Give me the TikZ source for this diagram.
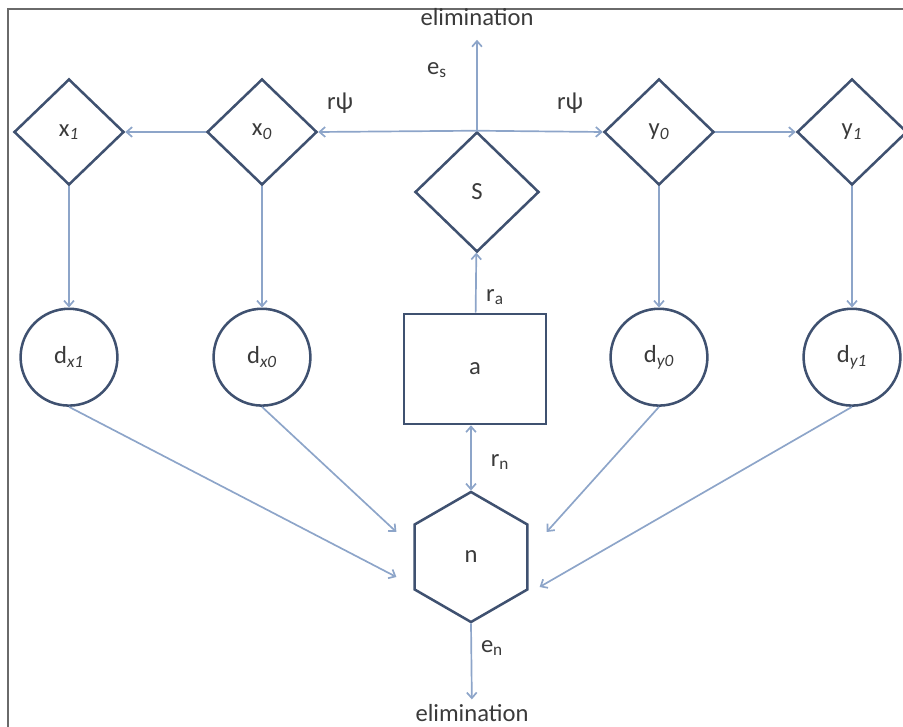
\documentclass[tikz,border=0pt]{standalone}
\usepackage{fontspec}
\setmainfont{Carlito}
\usetikzlibrary{arrows.meta,positioning,shapes.geometric}
\definecolor{edgeblue}{HTML}{3F5170}
\definecolor{linkblue}{HTML}{8DA5C9}
\definecolor{inkgray}{HTML}{3A3A3A}
\definecolor{framegray}{HTML}{6A6A6A}
\newcommand{\isub}[1]{\textsubscript{\itshape #1}}

\begin{document}
\begin{tikzpicture}[
    x=0.025cm, y=-0.025cm,
    every node/.style={font=\fontsize{17.5}{20}\selectfont, text=inkgray},
    barb/.tip={Straight Barb[length=4pt,width=7pt]},
    gate/.style={draw=edgeblue, line width=1.8pt, diamond, inner sep=0pt, minimum width=2.75cm, minimum height=2.65cm},
    pool/.style={draw=edgeblue, line width=1.8pt, circle, inner sep=0pt, minimum size=2.42cm},
    store/.style={draw=edgeblue, line width=1.8pt, minimum width=3.55cm, minimum height=2.75cm},
    hub/.style={draw=edgeblue, line width=1.8pt, regular polygon, regular polygon sides=6, shape border rotate=30, inner sep=0pt, minimum size=3.25cm},
    link/.style={draw=linkblue, line width=1.2pt, -barb},
    lbl/.style={inner sep=1pt}
]
\useasboundingbox (0,0) rectangle (903,727);
\draw[framegray, line width=1.4pt] (8,727) -- (8,9) -- (903,9);

% top row
\node[gate] (x1) at (69,132) {x\isub{1}};
\node[gate] (x0) at (262,132) {x\isub{0}};
\node[gate] (y0) at (659,132) {y\isub{0}};
\node[gate] (y1) at (852,132) {y\isub{1}};
\node[gate, minimum width=3.1cm, minimum height=3.0cm] (S) at (477,192) {S};

% pools
\node[pool, below=3.03cm of x1] (dx1) {d\isub{x1}};
\node[pool, below=3.03cm of x0] (dx0) {d\isub{x0}};
\node[pool, below=3.03cm of y0] (dy0) {d\isub{y0}};
\node[pool, below=3.03cm of y1] (dy1) {d\isub{y1}};

\node[store] (a) at (475,369) {a};
\node[hub] (n) at (471,557) {n};

\node (elimS) at (477,17) {elimination};
\node (elimN) at (472,713) {elimination};

% labels
\node[lbl] (es) at (437,70) {e\textsubscript{s}};
\node[lbl] (psiL) at (340,103) {rψ};
\node[lbl] (psiR) at (570,103) {rψ};
\node[lbl] (ra) at (495,297) {r\textsubscript{a}};
\node[lbl] (rn) at (500,462) {r\textsubscript{n}};
\node[lbl] (en) at (492,648) {e\textsubscript{n}};

\coordinate (inx1) at ([shift={(-17,20)}]n.180);
\coordinate (inx0) at ([shift={(-17,-25)}]n.180);
\coordinate (iny0) at ([shift={(18,-25)}]n.0);
\coordinate (iny1) at ([shift={(11,30)}]n.0);

\draw[link] (x0) -- (x1);
\draw[link] (y0) -- (y1);
\draw[link] (S.north) -- (x0.east);
\draw[link] (S.north) -- (y0.west);
\draw[link, shorten >=0.23cm] (S.north) -- (elimS);
\draw[link] (x1) -- (dx1);
\draw[link] (x0) -- (dx0);
\draw[link] (y0) -- (dy0);
\draw[link] (y1) -- (dy1);
\draw[link] (a) -- (S);
\draw[link, barb-barb] (n.90) -- (n.90 |- a.south);
\draw[link] (dx1.south) -- (inx1);
\draw[link] (dx0.south) -- (inx0);
\draw[link] (dy0.south) -- (iny0);
\draw[link] (dy1.south) -- (iny1);
\draw[link] (n.270) -- (elimN);
\end{tikzpicture}
\end{document}
